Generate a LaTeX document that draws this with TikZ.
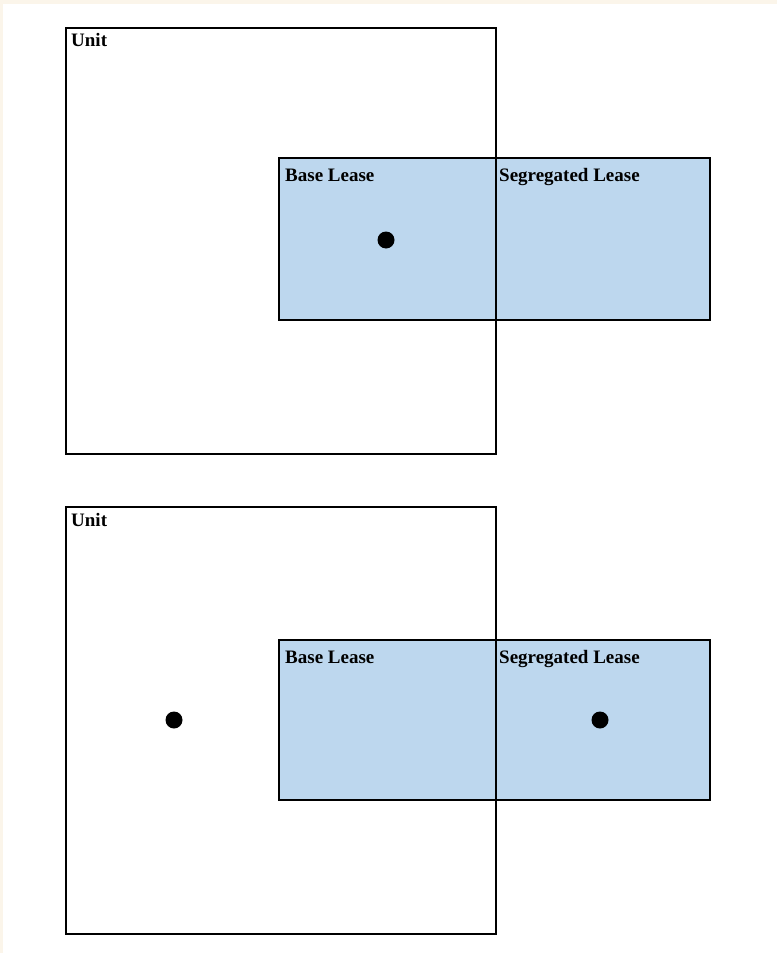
\documentclass[tikz,border=0pt]{standalone}
\usepackage{fontspec}
\setmainfont{Liberation Serif}
\usepackage{tikz}
\usetikzlibrary{positioning}
\definecolor{leaseblue}{RGB}{189,215,238}
\definecolor{pagecream}{RGB}{251,245,234}

\begin{document}
\begin{tikzpicture}[
  x=1pt, y=-1pt,
  frame/.style={draw=black, line width=2.2pt, line cap=square},
  lease/.style={fill=leaseblue},
  lbl/.style={anchor=base west, inner sep=0pt, font=\fontsize{19}{21}\selectfont\bfseries},
  spot/.style={circle, fill=black, inner sep=0pt, minimum size=17pt},
]
% --- page ---
\fill[pagecream] (0,0) rectangle (777,953);
\fill[white] (3,4) rectangle (777,953);
\useasboundingbox (0,0) rectangle (777,953);

% --- upper panel ---
\fill[lease] (279,158) rectangle (710,320);
\draw[frame] (66,28) rectangle (496,454);
\draw[frame] (279,158) rectangle (710,320);
\node[lbl] (unitA) at (71,46) {Unit};
\node[lbl] (baseA) at (285,181) {Base Lease};
\node[lbl] (segA) at (499,181) {Segregated Lease};
\node[spot] (dotA) at (386,240) {};

% --- lower panel ---
\fill[lease] (279,640) rectangle (710,800);
\draw[frame] (66,507) rectangle (496,934);
\draw[frame] (279,640) rectangle (710,800);
\node[lbl] (unitB) at (71,526) {Unit};
\node[lbl] (baseB) at (285,663) {Base Lease};
\node[lbl] (segB) at (499,663) {Segregated Lease};
\node[spot] (dotB) at (174,720) {};
\node[spot] (dotC) at (600,720) {};
\end{tikzpicture}
\end{document}
